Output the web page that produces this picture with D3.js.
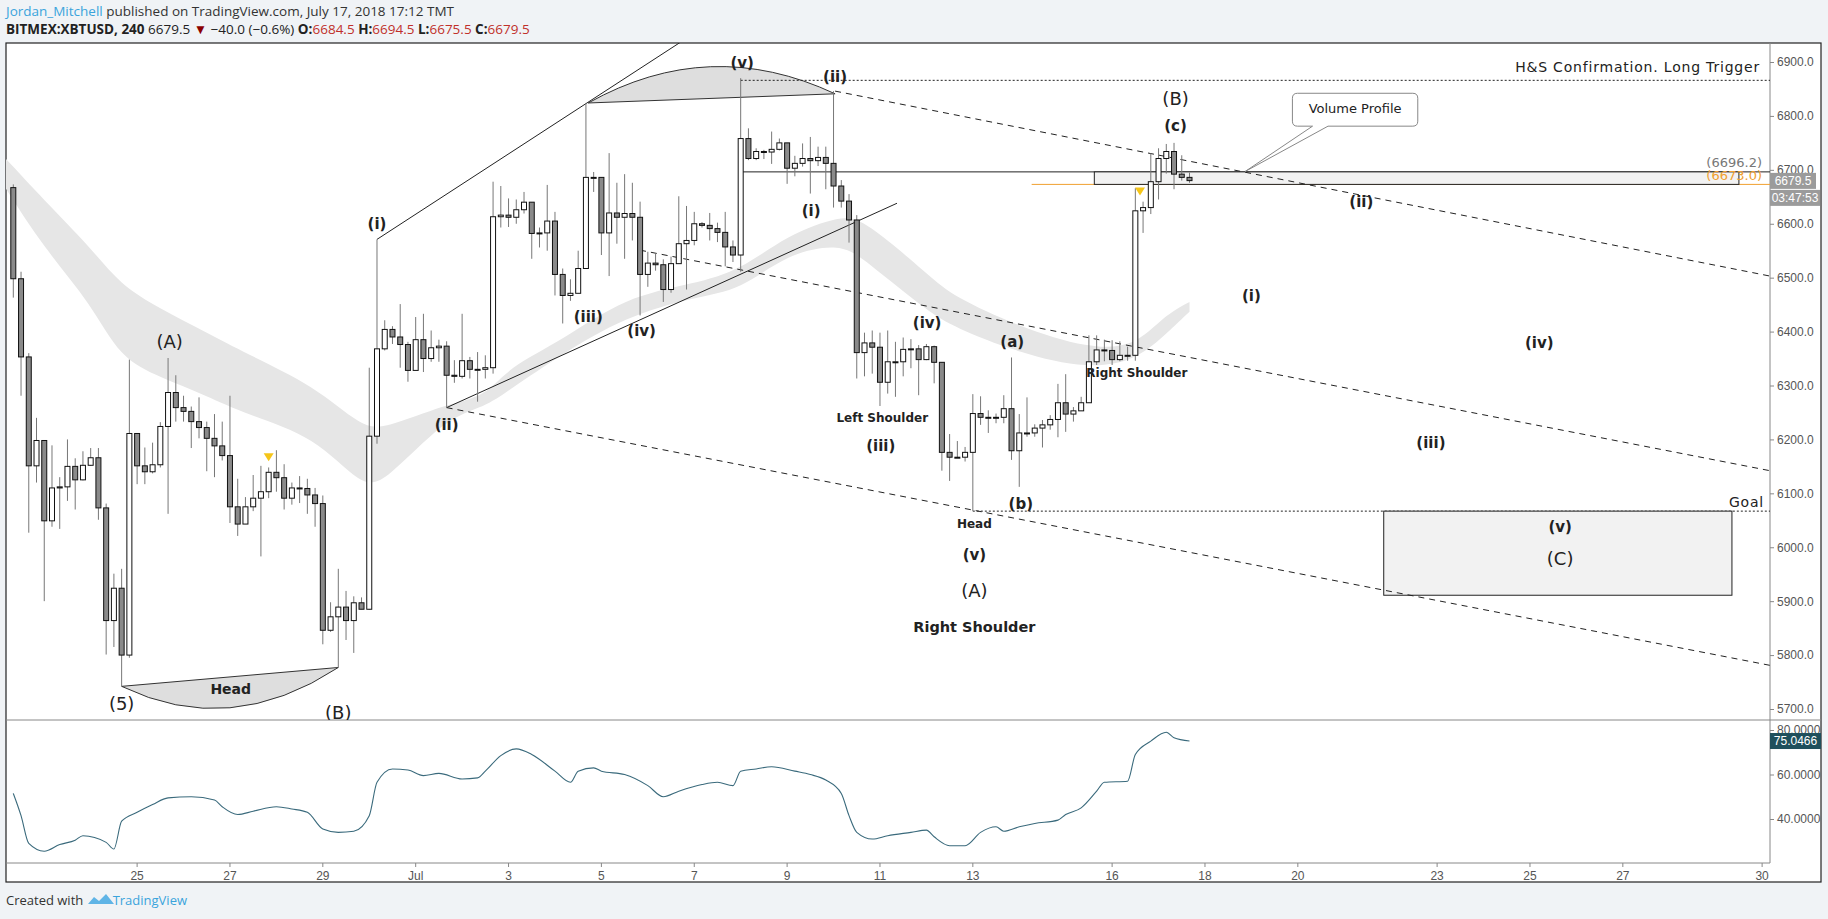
<!DOCTYPE html>
<html>
<head>
<meta charset="utf-8">
<script src="https://cdn.jsdelivr.net/npm/d3@7/dist/d3.min.js"></script>
<style>
  body { margin: 0; background: #f0f3f6; }
  svg { display: block; }
  .lbl { font-family: "DejaVu Sans", Verdana, sans-serif; fill: #222; text-anchor: middle; dominant-baseline: middle; }
  .axis text { font-family: "Liberation Sans", Arial, sans-serif; font-size: 12px; fill: #555; }
</style>
</head>
<body>
<svg id="chart" width="1828" height="919"></svg>
<script>
// 4h bars, BITMEX:XBTUSD, first bar Jun 22 08:00 — [open, high, low, close]
var bars = [
  [6667,6673,6463,6498],[6498,6511,6281,6353],[6353,6360,6027,6151],[6151,6240,6120,6198],
  [6198,6198,5900,6049],[6049,6189,6038,6110],[6110,6130,6034,6112],[6112,6200,6086,6150],
  [6150,6165,6070,6125],[6125,6178,6124,6152],[6152,6184,6151,6166],[6166,6184,6051,6073],
  [6073,6081,5801,5864],[5864,5951,5815,5924],[5924,5960,5742,5800],[5800,6348,5795,6211],
  [6211,6211,6117,6151],[6151,6185,6117,6140],[6140,6194,6137,6153],[6153,6232,6148,6224],
  [6224,6351,6062,6287],[6287,6319,6233,6259],[6259,6281,6233,6252],[6252,6261,6184,6233],
  [6233,6278,6202,6222],[6222,6233,6141,6202],[6202,6247,6130,6188],[6188,6233,6161,6170],
  [6170,6281,6045,6075],[6075,6127,6021,6043],[6043,6093,6043,6075],[6075,6134,6067,6091],
  [6091,6151,5983,6103],[6103,6148,6091,6139],[6139,6180,6103,6129],[6129,6154,6070,6091],
  [6091,6120,6079,6110],[6110,6132,6082,6109],[6109,6127,6062,6097],[6097,6110,6038,6081],
  [6081,6096,5820,5846],[5846,5898,5843,5871],[5871,5960,5777,5889],[5889,5919,5828,5864],
  [5864,5909,5804,5897],[5897,5907,5885,5885],[5885,6333,5884,6206],[6206,6571,6192,6368],
  [6368,6421,6365,6404],[6404,6410,6377,6390],[6390,6451,6333,6376],[6376,6381,6307,6328],
  [6328,6427,6328,6385],[6385,6433,6325,6350],[6350,6402,6344,6370],[6370,6385,6344,6373],
  [6373,6382,6259,6319],[6319,6347,6305,6317],[6317,6433,6313,6346],[6346,6353,6313,6330],
  [6330,6362,6270,6330],[6330,6356,6313,6333],[6333,6678,6322,6613],[6613,6670,6593,6616],
  [6616,6647,6594,6612],[6612,6645,6600,6626],[6626,6659,6619,6640],[6640,6640,6535,6582],
  [6582,6593,6556,6583],[6583,6672,6550,6605],[6605,6622,6467,6506],[6506,6517,6415,6467],
  [6467,6497,6457,6471],[6471,6550,6471,6517],[6517,6824,6517,6686],[6686,6696,6659,6686],
  [6686,6686,6542,6583],[6583,6731,6503,6620],[6620,6676,6563,6612],[6612,6692,6535,6619],
  [6619,6676,6569,6612],[6612,6641,6430,6506],[6506,6548,6483,6527],[6527,6545,6513,6524],
  [6524,6534,6455,6478],[6478,6539,6472,6526],[6526,6651,6526,6563],[6563,6633,6478,6569],
  [6569,6622,6560,6600],[6600,6603,6593,6597],[6597,6620,6569,6591],[6591,6602,6566,6584],
  [6584,6622,6521,6557],[6557,6569,6529,6542],[6542,6870,6511,6758],[6758,6777,6718,6721],
  [6721,6740,6718,6734],[6734,6737,6720,6733],[6733,6771,6711,6738],[6738,6758,6736,6750],
  [6750,6750,6674,6703],[6703,6726,6688,6712],[6712,6749,6706,6721],[6721,6761,6656,6717],
  [6717,6743,6707,6723],[6723,6743,6664,6712],[6712,6846,6630,6670],[6670,6681,6630,6642],
  [6642,6655,6565,6607],[6607,6616,6313,6361],[6361,6398,6317,6379],[6379,6402,6322,6371],
  [6371,6398,6262,6306],[6306,6402,6285,6344],[6344,6381,6279,6344],[6344,6389,6317,6367],
  [6367,6386,6332,6368],[6368,6375,6282,6348],[6348,6377,6347,6372],[6372,6374,6304,6343],
  [6343,6343,6142,6176],[6176,6210,6123,6167],[6167,6197,6167,6167],[6167,6186,6159,6176],
  [6176,6284,6067,6248],[6248,6280,6227,6241],[6241,6254,6212,6241],[6241,6248,6230,6241],
  [6241,6282,6230,6257],[6257,6352,6162,6179],[6179,6247,6112,6212],[6212,6278,6205,6212],
  [6212,6228,6205,6221],[6221,6236,6185,6227],[6227,6245,6218,6237],[6237,6303,6204,6268],
  [6268,6321,6214,6247],[6247,6260,6233,6253],[6253,6279,6253,6268],[6268,6393,6268,6344],
  [6344,6393,6338,6366],[6366,6385,6345,6365],[6365,6384,6338,6348],[6348,6382,6345,6356],
  [6356,6372,6346,6356],[6356,6666,6346,6624],[6624,6641,6583,6630],[6630,6731,6618,6678],
  [6678,6740,6645,6721],[6721,6748,6693,6734],[6734,6750,6664,6692],[6692,6727,6680,6686],
  [6686,6695,6676,6680]
];

// grey moving-average ribbon: bar index, upper, lower
var cloudIdx = [0, 4.9, 11, 14.8, 19.9, 26, 31, 40, 46, 49, 57, 62, 65, 72, 80, 89, 95, 101, 108, 111, 119.5, 122.5, 131, 140, 146, 149.6, 153];
var cloudTop = [6721,6645,6556,6487,6443,6398,6360,6299,6223,6220,6266,6279,6334,6384,6464,6489,6514,6579,6616,6607,6502,6465,6409,6368,6372,6428,6455];
var cloudBot = [6666,6556,6453,6350,6316,6281,6247,6206,6112,6120,6242,6260,6291,6359,6427,6464,6477,6545,6564,6533,6434,6409,6360,6330,6347,6390,6437];

// RSI: bar index, value
var rsiIdx = [1,2,3,5,7,9,10,13,14,15,17,19,21,24,27,28,30,32,35,37,39,41,43,45,47,48,50,52,54,56,59,61,62,64,66,68,71,73,74,76,77,80,83,85,87,90,92,94,95,97,99,102,104,106,108,109,110,112,114,117,119,120,122,124,126,128,129,131,133,136,137,139,141,142,145,146,148,150,151,153];
var rsiVal = [51.5,41.5,29,25.5,28.5,30.5,32.5,29.5,26.5,39,43,46.5,49.5,50,48.5,45.5,42,43.5,45.5,44.5,43,35.5,34,34.5,41.5,56.5,62.5,62,59.5,60.5,58,58.5,61.5,68.5,71.5,69,61.5,56.5,61.5,63,61.5,60,55,50,52.5,55.5,56.5,55,61.5,62.5,63.5,61.5,60,57.5,51.5,41.5,34,31,32.5,34,35,32,28,28,34,36.5,34.5,36.5,38,39.5,42,45,52.5,56.5,57,69,75,79,76.5,75.0466];

var priceTicks = [5700,5800,5900,6000,6100,6200,6300,6400,6500,6600,6700,6800,6900];
var rsiTicks = [40,60,80];
// date ticks: label, days after Jun 25 (Jun 25 00:00 = bar 17)
var dayTicks = [[25,0],[27,2],[29,4],['Jul',6],[3,8],[5,10],[7,12],[9,14],[11,16],[13,18],[16,21],[18,23],[20,25],[23,28],[25,30],[27,32],[30,35]];

// wave labels: bar index, price, text, style
var waveLabels = [
  [21.2,6378,'(A)','big'],[15,5707,'(5)','big'],[29.1,5735,'Head','b13'],[43,5690,'(B)','big'],
  [48,6599,'(i)','w'],[57,6225,'(ii)','w'],[75.3,6427,'(iii)','w'],[82.2,6400,'(iv)','w'],
  [95.2,6898,'(v)','w'],[107.2,6872,'(ii)','w'],[104.1,6623,'(i)','w'],[119.1,6415,'(iv)','w'],
  [113.3,6238,'Left Shoulder','b12'],[113.1,6186,'(iii)','w'],[130.1,6380,'(a)','w'],
  [131.2,6080,'(b)','w'],[125.2,6043,'Head','b12'],[125.2,5984,'(v)','w'],[125.2,5917,'(A)','big'],
  [125.2,5850,'Right Shoulder','b15'],[146.2,6322,'Right Shoulder','b12'],
  [151.2,6829,'(B)','big'],[151.2,6781,'(c)','w'],[175.2,6640,'(ii)','w'],[161,6465,'(i)','w'],
  [198.2,6378,'(iv)','w'],[184.2,6192,'(iii)','w'],[200.9,6036,'(v)','w'],[200.9,5976,'(C)','big']
];

// trend lines: [i1, p1, i2, p2, dashed]
var trendLines = [
  [48,6571,91,6972,false],[57,6259,115.2,6638,false],
  [107.2,6846,228,6503,true],[82,6551,228,6142,true],[57,6259,228,5781,true]
];

var svg = d3.select('#chart');
var paneL = 6, paneR = 1770, priceTop = 43, priceBot = 720, rsiBot = 863;

var x = d3.scaleLinear().domain([1, 153]).range([13.3, 1189.5]);
var y = d3.scaleLinear().domain([5700, 6900]).range([709, 62]);
var yr = d3.scaleLinear().domain([40, 80]).range([819, 730]);

// header
var head = svg.append('g').attr('font-family', '"Open Sans", sans-serif').attr('font-size', 13.5);
var t1 = head.append('text').attr('x', 6).attr('y', 16);
t1.append('tspan').attr('fill', '#3ba4dc').text('Jordan_Mitchell');
t1.append('tspan').attr('fill', '#333').text(' published on TradingView.com, July 17, 2018 17:12 TMT');
var t2 = head.append('text').attr('x', 6).attr('y', 34).attr('fill', '#222');
t2.append('tspan').attr('font-weight', 'bold').text('BITMEX:XBTUSD, 240 ');
t2.append('tspan').text('6679.5 ');
t2.append('tspan').attr('fill', '#8b0000').text('▼');
t2.append('tspan').text(' −40.0 (−0.6%) ');
[['O:', '6684.5'], ['H:', '6694.5'], ['L:', '6675.5'], ['C:', '6679.5']].forEach(function(p) {
    t2.append('tspan').attr('font-weight', 'bold').text(p[0]);
    t2.append('tspan').attr('fill', '#c0302a').text(p[1] + ' ');
});

// frame
svg.append('rect').attr('x', paneL).attr('y', priceTop).attr('width', 1821 - paneL).attr('height', 882 - priceTop)
    .attr('fill', '#fff').attr('stroke', '#222').attr('stroke-width', 1.2);
svg.append('line').attr('x1', paneR).attr('x2', paneR).attr('y1', priceTop).attr('y2', rsiBot).attr('stroke', '#888');
svg.append('line').attr('x1', paneL).attr('x2', 1821).attr('y1', priceBot).attr('y2', priceBot).attr('stroke', '#888');
svg.append('line').attr('x1', paneL).attr('x2', paneR).attr('y1', rsiBot).attr('y2', rsiBot).attr('stroke', '#888');

svg.append('clipPath').attr('id', 'pclip').append('rect')
    .attr('x', paneL).attr('y', priceTop).attr('width', paneR - paneL).attr('height', priceBot - priceTop);
var g = svg.append('g').attr('clip-path', 'url(#pclip)');

// ribbon
var area = d3.area().curve(d3.curveBasis)
    .x(function(d, i) { return x(d); })
    .y0(function(d, i) { return y(cloudBot[i]); })
    .y1(function(d, i) { return y(cloudTop[i]); });
g.append('path').attr('d', area(cloudIdx)).attr('fill', '#e6e6e6');

// arcs (filled bowls)
function arcPath(a, c, b) {
    return 'M' + x(a[0]) + ',' + y(a[1]) + 'Q' + x(c[0]) + ',' + y(c[1]) + ' ' + x(b[0]) + ',' + y(b[1]) + 'Z';
}
g.append('path').attr('d', arcPath([15, 5742], [29, 5645], [43, 5777])).attr('fill', '#dedede').attr('stroke', '#333');
g.append('path').attr('d', arcPath([75.3, 6824], [91, 6950], [107.2, 6841])).attr('fill', '#dedede').attr('stroke', '#333');

// horizontal levels
g.append('line').attr('x1', x(95)).attr('x2', paneR).attr('y1', y(6866)).attr('y2', y(6866))
    .attr('stroke', '#222').attr('stroke-dasharray', '2,2');
g.append('line').attr('x1', x(125)).attr('x2', paneR).attr('y1', y(6067)).attr('y2', y(6067))
    .attr('stroke', '#222').attr('stroke-dasharray', '2,2');
g.append('line').attr('x1', x(95)).attr('x2', paneR).attr('y1', y(6696.2)).attr('y2', y(6696.2)).attr('stroke', '#222');
g.append('line').attr('x1', x(132.6)).attr('x2', paneR).attr('y1', y(6673)).attr('y2', y(6673)).attr('stroke', '#f0a030');
g.append('rect').attr('x', x(140.7)).attr('y', y(6696.2)).attr('width', x(224) - x(140.7)).attr('height', y(6673) - y(6696.2))
    .attr('fill', '#f2f2f2').attr('stroke', '#222');

// target box
g.append('rect').attr('x', x(178.1)).attr('y', y(6067)).attr('width', x(223.1) - x(178.1)).attr('height', y(5911) - y(6067))
    .attr('fill', '#f2f2f2').attr('stroke', '#222');

// trend lines
g.selectAll('.trend').data(trendLines).enter().append('line')
    .attr('x1', function(d) { return x(d[0]); }).attr('y1', function(d) { return y(d[1]); })
    .attr('x2', function(d) { return x(d[2]); }).attr('y2', function(d) { return y(d[3]); })
    .attr('stroke', '#222').attr('stroke-width', 1)
    .attr('stroke-dasharray', function(d) { return d[4] ? '6,5' : null; });

// candles
var cw = 5;
var cg = g.selectAll('.bar').data(bars).enter().append('g');
cg.append('line')
    .attr('x1', function(d, i) { return x(i + 1); }).attr('x2', function(d, i) { return x(i + 1); })
    .attr('y1', function(d) { return y(d[1]); }).attr('y2', function(d) { return y(d[2]); })
    .attr('stroke', '#777');
cg.append('rect')
    .attr('x', function(d, i) { return x(i + 1) - cw / 2; })
    .attr('y', function(d) { return y(Math.max(d[0], d[3])); })
    .attr('width', cw)
    .attr('height', function(d) { return Math.max(1, Math.abs(y(d[0]) - y(d[3]))); })
    .attr('fill', function(d) { return d[3] >= d[0] ? '#fff' : '#8a8a8a'; })
    .attr('stroke', '#111').attr('stroke-width', 1);

// yellow markers
[[34, 6165], [146.6, 6658]].forEach(function(m) {
    var cx = x(m[0]), cy = y(m[1]);
    g.append('path').attr('d', 'M' + (cx - 5) + ',' + (cy - 5) + 'L' + (cx + 5) + ',' + (cy - 5) + 'L' + cx + ',' + (cy + 3) + 'Z')
        .attr('fill', '#f5c518');
});

// labels
var styles = {
    big: {size: 18, bold: false},
    w: {size: 15, bold: true},
    b12: {size: 12, bold: true},
    b13: {size: 14, bold: true},
    b15: {size: 14.5, bold: true}
};
g.selectAll('.wl').data(waveLabels).enter().append('text')
    .attr('class', 'lbl')
    .attr('x', function(d) { return x(d[0]); })
    .attr('y', function(d) { return y(d[1]); })
    .attr('font-size', function(d) { return styles[d[3]].size; })
    .attr('font-weight', function(d) { return styles[d[3]].bold ? 'bold' : 'normal'; })
    .text(function(d) { return d[2]; });

g.append('text').attr('class', 'lbl').style('text-anchor', 'end')
    .attr('x', paneR - 10).attr('y', y(6888)).attr('font-size', 14).attr('letter-spacing', 0.8)
    .text('H&S Confirmation. Long Trigger');
g.append('text').attr('class', 'lbl').style('text-anchor', 'end')
    .attr('x', paneR - 6).attr('y', y(6082)).attr('font-size', 14).attr('letter-spacing', 0.8).text('Goal');
g.append('text').attr('class', 'lbl').style('text-anchor', 'end')
    .attr('x', paneR - 8).attr('y', y(6696.2) - 8).attr('font-size', 13).style('fill', '#777').text('(6696.2)');
g.append('text').attr('class', 'lbl').style('text-anchor', 'end')
    .attr('x', paneR - 8).attr('y', y(6673) - 8).attr('font-size', 13).style('fill', '#f0a030').text('(6673.0)');

// volume profile callout
var bx0 = x(166.3), bx1 = x(182.5), by0 = y(6842), by1 = y(6781), tipX = x(160.2), tipY = y(6697);
g.append('path')
    .attr('d', 'M' + (bx0 + 5) + ',' + by0 + 'H' + (bx1 - 5) + 'Q' + bx1 + ',' + by0 + ' ' + bx1 + ',' + (by0 + 5) +
        'V' + (by1 - 5) + 'Q' + bx1 + ',' + by1 + ' ' + (bx1 - 5) + ',' + by1 + 'H' + x(170.9) + 'L' + tipX + ',' + tipY +
        'L' + x(168.9) + ',' + by1 + 'H' + (bx0 + 5) + 'Q' + bx0 + ',' + by1 + ' ' + bx0 + ',' + (by1 - 5) +
        'V' + (by0 + 5) + 'Q' + bx0 + ',' + by0 + ' ' + (bx0 + 5) + ',' + by0 + 'Z')
    .attr('fill', '#fff').attr('stroke', '#888');
g.append('text').attr('class', 'lbl').attr('x', (bx0 + bx1) / 2).attr('y', (by0 + by1) / 2)
    .attr('font-size', 13).text('Volume Profile');

// price axis
var pa = svg.append('g').attr('class', 'axis').attr('transform', 'translate(' + paneR + ',0)')
    .call(d3.axisRight(y).tickValues(priceTicks).tickSize(4).tickFormat(d3.format('.1f')));
pa.select('.domain').remove();
pa.selectAll('line').attr('stroke', '#888');

function axisTag(yy, w, fill, label) {
    svg.append('rect').attr('x', paneR).attr('y', yy - 8).attr('width', w).attr('height', 16).attr('fill', fill);
    svg.append('text').attr('x', paneR + w / 2).attr('y', yy + 4).attr('text-anchor', 'middle').attr('fill', '#fff')
        .attr('font-size', 12).attr('font-family', '"Liberation Sans", Arial, sans-serif').text(label);
}
axisTag(y(6679.5), 46, '#9b9b9b', '6679.5');
axisTag(y(6679.5) + 17, 50, '#9b9b9b', '03:47:53');

// RSI pane
var rsiLine = d3.line().curve(d3.curveMonotoneX)
    .x(function(d, i) { return x(d); })
    .y(function(d, i) { return yr(rsiVal[i]); });
svg.append('path').attr('d', rsiLine(rsiIdx)).attr('fill', 'none').attr('stroke', '#3a6a7c').attr('stroke-width', 1.1);
var ra = svg.append('g').attr('class', 'axis').attr('transform', 'translate(' + paneR + ',0)')
    .call(d3.axisRight(yr).tickValues(rsiTicks).tickSize(4).tickFormat(d3.format('.4f')));
ra.select('.domain').remove();
ra.selectAll('line').attr('stroke', '#888');
axisTag(yr(75.0466), 51, '#1f4f5c', '75.0466');

// date axis
var xa = svg.append('g').attr('class', 'axis').attr('transform', 'translate(0,' + rsiBot + ')');
xa.selectAll('g').data(dayTicks).enter().append('g').each(function(d) {
    var px = x(17 + d[1] * 6);
    d3.select(this).append('line').attr('x1', px).attr('x2', px).attr('y1', 0).attr('y2', 4).attr('stroke', '#888');
    d3.select(this).append('text').attr('x', px).attr('y', 17).attr('text-anchor', 'middle').text(d[0]);
});

// footer
var f = svg.append('text').attr('x', 6).attr('y', 905).attr('font-family', '"Open Sans", sans-serif').attr('font-size', 13).attr('fill', '#333');
f.append('tspan').text('Created with ');
f.append('tspan').attr('dx', 26).attr('fill', '#3ba4dc').text('TradingView');
svg.append('path').attr('d', 'M88,904 l6,-7 l5,4 l7,-7 l8,10 z').attr('fill', '#5fb4e6');
</script>
</body>
</html>
